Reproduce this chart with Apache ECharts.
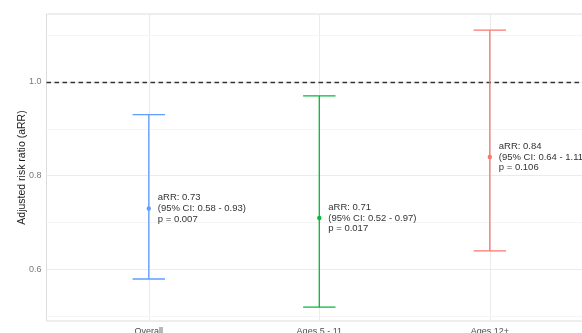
<!DOCTYPE html>
<html>
<head>
<meta charset="utf-8">
<script src="https://cdn.jsdelivr.net/npm/echarts@6/dist/echarts.min.js"></script>
<style>
html,body{margin:0;padding:0;background:#fff;}
#chart{width:582px;height:333px;}
</style>
</head>
<body>
<div id="chart"></div>
<script>
const categories = ['Overall', 'Ages 5 - 11', 'Ages 12+'];
const estimates = [0.73, 0.71, 0.84];
const ciLower = [0.58, 0.52, 0.64];
const ciUpper = [0.93, 0.97, 1.11];
const pValues = ['0.007', '0.017', '0.106'];
const yTickValues = [0.6, 0.8, 1.0];
const yMinorValues = [0.5, 0.7, 0.9, 1.1];
const referenceValue = 1.0;

const palette = ['#619CFF', '#00BA38', '#F8766D'];
const FONT = 'Liberation Sans, Arial, sans-serif';

const seriesData = categories.map((c, i) => [i + 1, estimates[i], ciLower[i], ciUpper[i], i]);

const chart = echarts.init(document.getElementById('chart'), null, {renderer: 'canvas'});

const option = {
  animation: false,
  backgroundColor: '#ffffff',
  grid: {
    left: 46.5, top: 14, width: 545.6, height: 307,
    outerBoundsMode: 'none', containLabel: false,
    show: true, borderColor: '#dcdcdc', borderWidth: 1, backgroundColor: 'transparent'
  },
  xAxis: {
    type: 'value', min: 0.4, max: 3.6,
    axisLine: {show: false},
    axisTick: {show: false, customValues: [1, 2, 3]},
    axisLabel: {
      customValues: [1, 2, 3],
      formatter: v => categories[Math.round(v) - 1] || '',
      color: '#4d4d4d', fontSize: 9, fontFamily: FONT, margin: 6
    },
    splitLine: {show: true, lineStyle: {color: '#ebebeb', width: 1}}
  },
  yAxis: {
    type: 'value', min: 0.4905, max: 1.1445,
    name: 'Adjusted risk ratio (aRR)',
    nameLocation: 'middle', nameRotate: 90, nameGap: 19, nameMoveOverlap: false,
    nameTextStyle: {color: '#1a1a1a', fontSize: 10.5, fontFamily: FONT},
    axisLine: {show: false},
    axisTick: {show: false, customValues: yTickValues},
    axisLabel: {
      customValues: yTickValues,
      formatter: v => v.toFixed(1),
      color: '#7a7a7a', fontSize: 9, fontFamily: FONT, margin: 5
    },
    splitLine: {show: true, lineStyle: {color: '#ebebeb', width: 1}}
  },
  series: [
    {
      type: 'line', data: [], silent: true, z: 1,
      markLine: {
        silent: true, symbol: 'none', animation: false,
        label: {show: false},
        data: yMinorValues.map(v => ({yAxis: v, lineStyle: {color: '#f5f5f5', width: 1, type: 'solid'}}))
      }
    },
    {
      type: 'line', data: [], silent: true, z: 2,
      markLine: {
        silent: true, symbol: 'none', animation: false,
        label: {show: false},
        data: [{yAxis: referenceValue, lineStyle: {color: '#333333', width: 1.3, type: [4.5, 3.5]}}]
      }
    },
    {
      type: 'custom', z: 5, clip: false,
      data: seriesData,
      renderItem: function (params, api) {
        const x = api.value(0);
        const est = api.value(1), lo = api.value(2), hi = api.value(3);
        const idx = api.value(4);
        const color = palette[idx];
        const pEst = api.coord([x, est]);
        const pLo = api.coord([x, lo]);
        const pHi = api.coord([x, hi]);
        const halfCap = api.size([0.095, 0])[0];
        const lineStyle = {stroke: color, lineWidth: 1.3};
        return {
          type: 'group',
          children: [
            {type: 'line', shape: {x1: pLo[0], y1: pLo[1], x2: pHi[0], y2: pHi[1]}, style: lineStyle},
            {type: 'line', shape: {x1: pLo[0] - halfCap, y1: pLo[1], x2: pLo[0] + halfCap, y2: pLo[1]}, style: lineStyle},
            {type: 'line', shape: {x1: pHi[0] - halfCap, y1: pHi[1], x2: pHi[0] + halfCap, y2: pHi[1]}, style: lineStyle},
            {type: 'circle', shape: {cx: pEst[0], cy: pEst[1], r: 2.2}, style: {fill: color}},
            {
              type: 'text',
              style: {
                text: 'aRR: ' + est.toFixed(2) + '\n(95% CI: ' + lo.toFixed(2) + ' - ' + hi.toFixed(2) + ')\np = ' + pValues[idx],
                x: pEst[0] + 9, y: pEst[1],
                align: 'left', verticalAlign: 'middle',
                fill: '#333333', fontSize: 9.5, lineHeight: 10.8, fontFamily: FONT
              }
            }
          ]
        };
      }
    }
  ]
};
chart.setOption(option);
</script>
</body>
</html>
